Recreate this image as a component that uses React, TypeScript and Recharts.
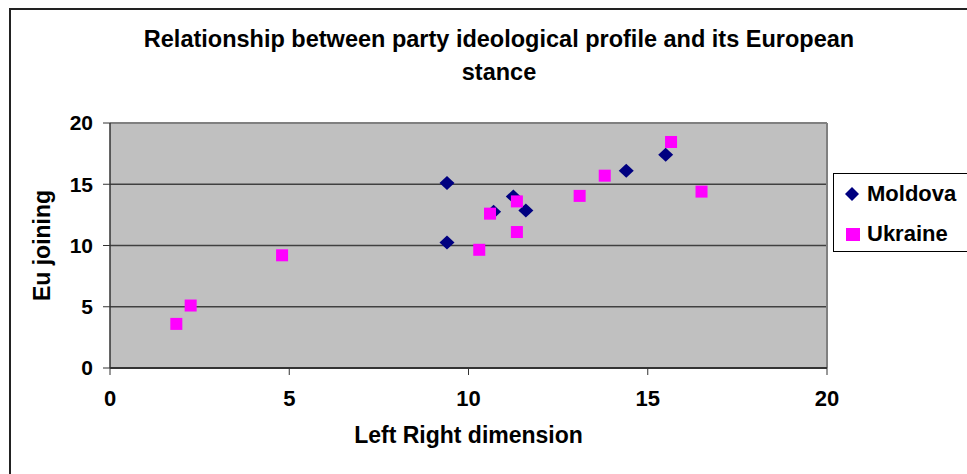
import {
  ScatterChart, Scatter, XAxis, YAxis, CartesianGrid, ReferenceLine, Legend
} from "recharts";

const moldovaX = [9.4, 9.4, 10.7, 11.25, 11.6, 14.4, 15.5];
const moldovaY = [15.1, 10.25, 12.75, 14.0, 12.85, 16.1, 17.4];
const ukraineX = [1.85, 2.25, 4.8, 10.3, 10.6, 11.35, 11.35, 13.1, 13.8, 15.65, 16.5];
const ukraineY = [3.6, 5.1, 9.2, 9.65, 12.6, 13.6, 11.1, 14.05, 15.7, 18.45, 14.4];
const axisTicks = [0, 5, 10, 15, 20];

const moldova = moldovaX.map((x, i) => ({ x, y: moldovaY[i] }));
const ukraine = ukraineX.map((x, i) => ({ x, y: ukraineY[i] }));

const FONT = "'Liberation Sans', Arial, sans-serif";
const NAVY = "#000080";
const PINK = "#ff00ff";

function Diamond(props: any) {
  const { cx, cy } = props;
  return (
    <polygon
      points={`${cx},${cy - 7} ${cx + 7.5},${cy} ${cx},${cy + 7} ${cx - 7.5},${cy}`}
      fill={NAVY}
    />
  );
}

function Square(props: any) {
  const { cx, cy } = props;
  return <rect x={cx - 6} y={cy - 6} width={12} height={12} fill={PINK} />;
}

function LegendBox() {
  const row = { display: "flex", alignItems: "center", height: 40, whiteSpace: "nowrap" } as const;
  return (
    <div
      style={{
        border: "1px solid #000",
        background: "#fff",
        width: 134,
        height: 77,
        fontFamily: FONT,
        fontWeight: "bold",
        fontSize: 22,
        color: "#000",
      }}
    >
      <div style={row}>
        <svg width={33} height={20} style={{ flex: "none" }}>
          <polygon points="18,3 25,10 18,17 11,10" fill={NAVY} />
        </svg>
        <span>Moldova</span>
      </div>
      <div style={row}>
        <svg width={33} height={20} style={{ flex: "none" }}>
          <rect x={12} y={4} width={14} height={13} fill={PINK} />
        </svg>
        <span>Ukraine</span>
      </div>
    </div>
  );
}

export default function App() {
  return (
    <div>
      <style>{`html,body{margin:0;overflow:hidden}`}</style>
      <div
        style={{
          position: "absolute",
          left: 9,
          top: 8,
          borderLeft: "2px solid #222",
          borderTop: "2px solid #222",
          width: 970,
          height: 470,
          overflow: "hidden",
        }}
      >
        <div
          style={{
            position: "absolute",
            left: 90,
            width: 796,
            top: 13,
            textAlign: "center",
            fontFamily: FONT,
            fontWeight: "bold",
            fontSize: 23.5,
            lineHeight: "33px",
            color: "#000",
            zIndex: 1,
          }}
        >
          Relationship between party ideological profile and its European
          <br />
          stance
        </div>
        <ScatterChart
          width={970}
          height={464}
          margin={{ top: 113, right: 154, bottom: 26, left: 39 }}
          style={{ fontFamily: FONT }}
        >
          <CartesianGrid
            vertical={false}
            fill="#c0c0c0"
            fillOpacity={1}
            stroke="#404040"
            strokeWidth={1.3}
          />
          <XAxis
            type="number"
            dataKey="x"
            domain={[0, 20]}
            ticks={axisTicks}
            height={80}
            tickSize={7}
            tickMargin={15}
            stroke="#333"
            strokeWidth={2}
            tick={{ fill: "#000", fontSize: 22, fontWeight: "bold" }}
            tickLine={{ stroke: "#333", strokeWidth: 1 }}
            label={{
              value: "Left Right dimension",
              position: "insideBottom",
              offset: 5,
              fill: "#000",
              fontSize: 23,
              fontWeight: "bold",
            }}
          />
          <YAxis
            type="number"
            dataKey="y"
            domain={[0, 20]}
            ticks={axisTicks}
            width={60}
            tickSize={7}
            tickMargin={10}
            stroke="#333"
            strokeWidth={1.5}
            tick={{ fill: "#000", fontSize: 21, fontWeight: "bold" }}
            tickLine={{ stroke: "#333", strokeWidth: 1 }}
            label={{
              value: "Eu joining",
              angle: -90,
              position: "center",
              dx: -38,
              fill: "#000",
              fontSize: 23,
              fontWeight: "bold",
            }}
          />
          <ReferenceLine y={20} stroke="#808080" strokeWidth={2} />
          <ReferenceLine x={20} stroke="#808080" strokeWidth={2} />
          <Legend
            layout="vertical"
            align="center"
            verticalAlign="middle"
            content={() => <LegendBox />}
            wrapperStyle={{ left: 822, top: 163, width: 136, height: 79 }}
          />
          <Scatter
            name="Moldova"
            data={moldova}
            shape={Diamond}
            isAnimationActive={false}
          />
          <Scatter
            name="Ukraine"
            data={ukraine}
            shape={Square}
            isAnimationActive={false}
          />
        </ScatterChart>
      </div>
    </div>
  );
}
